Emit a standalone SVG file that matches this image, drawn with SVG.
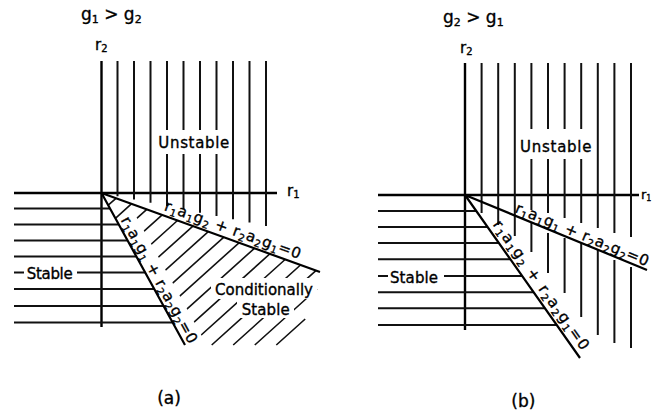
<svg xmlns="http://www.w3.org/2000/svg" width="652" height="414" viewBox="0 0 652 414">
<style>
.ax{stroke:#000;stroke-width:2.4;fill:none}
.gr{stroke:#111;stroke-width:2;fill:none}
.ht{stroke:#111;stroke-width:1.6;fill:none}
.bd{stroke:#000;stroke-width:2.2;fill:none}
text{font-family:"DejaVu Sans","Liberation Sans",sans-serif;fill:#000;stroke:#000;stroke-width:0.35}
.t{font-size:17px}
.lb{font-size:15px}
.eq{font-size:15px}
.sb{font-size:10px}
.ts{font-size:11px}
</style>
<defs>
<mask id="ma" maskUnits="userSpaceOnUse" x="0" y="0" width="652" height="414">
<rect width="652" height="414" fill="#fff"/>
<rect x="211" y="278" width="106" height="21" fill="#000"/>
<rect x="237" y="299" width="57" height="19" fill="#000"/>
<rect x="30" y="-19" width="150" height="20" fill="#000" transform="translate(101.5,193) rotate(61.2)"/>
</mask>
</defs>
<rect width="652" height="414" fill="#fff"/>

<g id="panel-a">
<g id="title-a"><text class="t" x="81" y="20">g<tspan class="ts" dy="3">1</tspan><tspan dy="-3"> &gt; g</tspan><tspan class="ts" dy="3">2</tspan></text></g>
<g id="axes-a">
<path class="ax" d="M101.5 61V327M14 193H277"/>
<text class="lb" x="95" y="50">r<tspan class="sb" dy="2">2</tspan></text>
<text class="lb" x="287" y="196">r<tspan class="sb" dy="2">1</tspan></text>
</g>
<g id="unstable-a">
<path class="gr" d="M117.5 61V196.2M134 61V199.5M150.5 61V202.8M167 61V130M167 154V206.1M183.5 61V130M183.5 154V209.4M200 61V130M200 154V212.7M216.5 61V130M216.5 154V216M233 61V219.3M249.5 61V222.6M266 61V225.9"/>
<text class="lb" x="158.3" y="148" textLength="71" lengthAdjust="spacing">Unstable</text>
</g>
<g id="stable-a">
<path class="gr" d="M14 208.5H110M14 224.5H118.8M14 240.5H127.6M14 256.5H136.4M14 272.5H24M77 272.5H145.2M14 289H154.2M14 306H163.6M14 322.5H172.7"/>
<text class="lb" x="26.7" y="278.5" textLength="46" lengthAdjust="spacing">Stable</text>
</g>
<g id="conditional-a">
<path class="ht" mask="url(#ma)" d="M108.2 205.2L116 198.3M115.4 218.3L131.4 203.8M122.5 231.2L146.8 209.4M129.6 244.2L162.2 214.9M136.8 257.2L177.5 220.5M143.9 270.2L192.9 226.1M151 283.1L208.3 231.6M158.2 296.2L223.6 237.3M165.3 309.1L239 242.8M172.4 322.1L254.4 248.3M179.6 335.1L269.8 253.9M190.1 345L285.1 259.5M211.7 345L300.5 265M233.2 345L315.9 270.6M254.8 345L317 289M276.3 345L305.2 319"/>
<text class="lb" x="215" y="294.5" textLength="98" lengthAdjust="spacing">Conditionally</text>
<text class="lb" x="241.7" y="315" textLength="48" lengthAdjust="spacing">Stable</text>
</g>
<g id="lines-a">
<path class="bd" d="M101.5 193L320 272M101.5 193L185 345"/>
<text class="eq" transform="translate(163.4,210.1) rotate(19.9)" textLength="144" lengthAdjust="spacing">r<tspan class="sb" dy="3">1</tspan><tspan dy="-3">a</tspan><tspan class="sb" dy="3">1</tspan><tspan dy="-3">g</tspan><tspan class="sb" dy="3">2</tspan><tspan dy="-3"> + r</tspan><tspan class="sb" dy="3">2</tspan><tspan dy="-3">a</tspan><tspan class="sb" dy="3">2</tspan><tspan dy="-3">g</tspan><tspan class="sb" dy="3">1</tspan><tspan dy="-3">=0</tspan></text>
<text class="eq" transform="translate(120.6,220.1) rotate(61.2)" textLength="142" lengthAdjust="spacing">r<tspan class="sb" dy="3">1</tspan><tspan dy="-3">a</tspan><tspan class="sb" dy="3">1</tspan><tspan dy="-3">g</tspan><tspan class="sb" dy="3">1</tspan><tspan dy="-3"> + r</tspan><tspan class="sb" dy="3">2</tspan><tspan dy="-3">a</tspan><tspan class="sb" dy="3">2</tspan><tspan dy="-3">g</tspan><tspan class="sb" dy="3">2</tspan><tspan dy="-3">=0</tspan></text>
</g>
<text id="caption-a" class="t" x="169" y="404" text-anchor="middle" font-size="18">(a)</text>
</g>

<g id="panel-b">
<g id="title-b"><text class="t" x="443" y="23">g<tspan class="ts" dy="3">2</tspan><tspan dy="-3"> &gt; g</tspan><tspan class="ts" dy="3">1</tspan></text></g>
<g id="axes-b">
<path class="ax" d="M465 63V330M378 195H639"/>
<text class="lb" x="460" y="53">r<tspan class="sb" dy="2">2</tspan></text>
<text x="641" y="199" font-size="13">r<tspan font-size="8" dy="2">1</tspan></text>
</g>
<g id="unstable-b">
<path class="gr" d="M481.6 63V213M498.2 63V225M514.8 63V236M531.4 63V129M531.4 159V210M531.4 223V252M548 63V129M548 159V213M548 233V273M564.6 63V129M564.6 159V218M564.6 238V293M581.2 63V129M581.2 159V223M581.2 243V317M597.8 63V228M597.8 250V335M614.4 63V233M614.4 260V343M631 63V237M631 267V348"/>
<text class="lb" x="520" y="151.5" textLength="71.5" lengthAdjust="spacing">Unstable</text>
</g>
<g id="stable-b">
<path class="gr" d="M378 211H476.3M378 227H487.6M378 243H498.9M378 259.3H510.3M378 276H388M444 276H522.1M378 292.3H533.6M378 308.3H544.9M378 325H556.7"/>
<text class="lb" x="390" y="282.5" textLength="48" lengthAdjust="spacing">Stable</text>
</g>
<g id="lines-b">
<path class="bd" d="M465 195L647 270M465 195L580 358"/>
<text class="eq" transform="translate(514.2,212) rotate(22.4)" textLength="143" lengthAdjust="spacing">r<tspan class="sb" dy="3">1</tspan><tspan dy="-3">a</tspan><tspan class="sb" dy="3">1</tspan><tspan dy="-3">g</tspan><tspan class="sb" dy="3">1</tspan><tspan dy="-3"> + r</tspan><tspan class="sb" dy="3">2</tspan><tspan dy="-3">a</tspan><tspan class="sb" dy="3">2</tspan><tspan dy="-3">g</tspan><tspan class="sb" dy="3">2</tspan><tspan dy="-3">=0</tspan></text>
<text class="eq" transform="translate(492.5,224.5) rotate(54.8)" textLength="155" lengthAdjust="spacing">r<tspan class="sb" dy="3">1</tspan><tspan dy="-3">a</tspan><tspan class="sb" dy="3">1</tspan><tspan dy="-3">g</tspan><tspan class="sb" dy="3">2</tspan><tspan dy="-3"> + r</tspan><tspan class="sb" dy="3">2</tspan><tspan dy="-3">a</tspan><tspan class="sb" dy="3">2</tspan><tspan dy="-3">g</tspan><tspan class="sb" dy="3">1</tspan><tspan dy="-3">=0</tspan></text>
</g>
<text id="caption-b" class="t" x="523.3" y="407" text-anchor="middle" font-size="18">(b)</text>
</g>
</svg>
